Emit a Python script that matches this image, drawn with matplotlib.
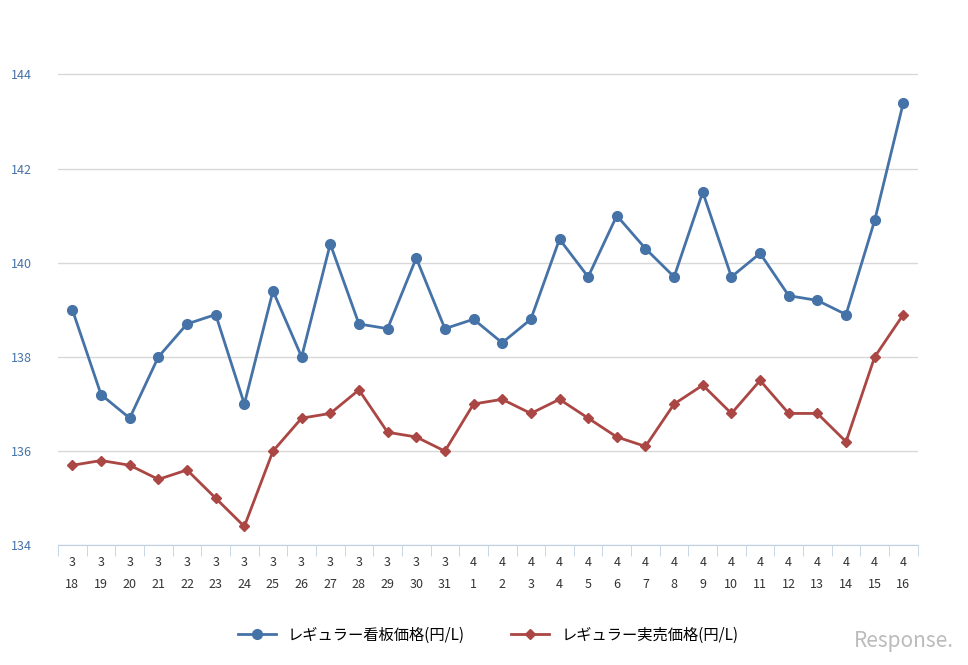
import matplotlib.pyplot as plt
import numpy as np

plt.rcParams["font.family"] = ["Noto Sans CJK JP", "DejaVu Sans"]

months = [3] * 14 + [4] * 16
days = list(range(18, 32)) + list(range(1, 17))
kanban = [139.0, 137.2, 136.7, 138.0, 138.7, 138.9, 137.0, 139.4, 138.0, 140.4,
          138.7, 138.6, 140.1, 138.6, 138.8, 138.3, 138.8, 140.5, 139.7, 141.0,
          140.3, 139.7, 141.5, 139.7, 140.2, 139.3, 139.2, 138.9, 140.9, 143.4]
jitsubai = [135.7, 135.8, 135.7, 135.4, 135.6, 135.0, 134.4, 136.0, 136.7, 136.8,
            137.3, 136.4, 136.3, 136.0, 137.0, 137.1, 136.8, 137.1, 136.7, 136.3,
            136.1, 137.0, 137.4, 136.8, 137.5, 136.8, 136.8, 136.2, 138.0, 138.9]
yticks = [134, 136, 138, 140, 142, 144]

fig = plt.figure(figsize=(9.68, 6.65), dpi=100)
ax = fig.add_axes([0.06, 0.18, 0.888, 0.779])
x = np.arange(len(days))

ax.plot(x, kanban, color="#4572a7", lw=2, marker="o", ms=7, label="レギュラー看板価格(円/L)", zorder=3)
ax.plot(x, jitsubai, color="#aa4643", lw=2, marker="D", ms=5, label="レギュラー実売価格(円/L)", zorder=3)

ax.set_xlim(-0.5, len(days) - 0.5)
ax.set_ylim(134, 145)
ax.set_yticks(yticks)
ax.set_yticklabels([str(v) for v in yticks], color="#4572a7", fontsize=9, ha="left")
ax.tick_params(axis="y", length=0, pad=34)
ax.set_xticks(x)
ax.set_xticklabels([f"{m}\n{d}" for m, d in zip(months, days)], fontsize=9, color="#333333", linespacing=1.9)
ax.set_xticks(np.arange(-0.5, len(days)), minor=True)
ax.tick_params(axis="x", which="major", length=0, pad=8)
ax.tick_params(axis="x", which="minor", length=8, color="#c0d0e0")
ax.grid(axis="y", color="#d8d8d8", lw=1)
ax.set_axisbelow(True)
for s in ["top", "right", "left"]:
    ax.spines[s].set_visible(False)
ax.spines["bottom"].set_color("#c0d0e0")

ax.legend(loc="upper center", bbox_to_anchor=(0.5, -0.13), ncol=2, frameon=False,
          fontsize=11, handlelength=2.5, columnspacing=3)
fig.text(0.985, 0.02, "Response.", ha="right", va="bottom", fontsize=15, color="#bbbbbb", style="italic")
fig.savefig("out.png", dpi=100)
